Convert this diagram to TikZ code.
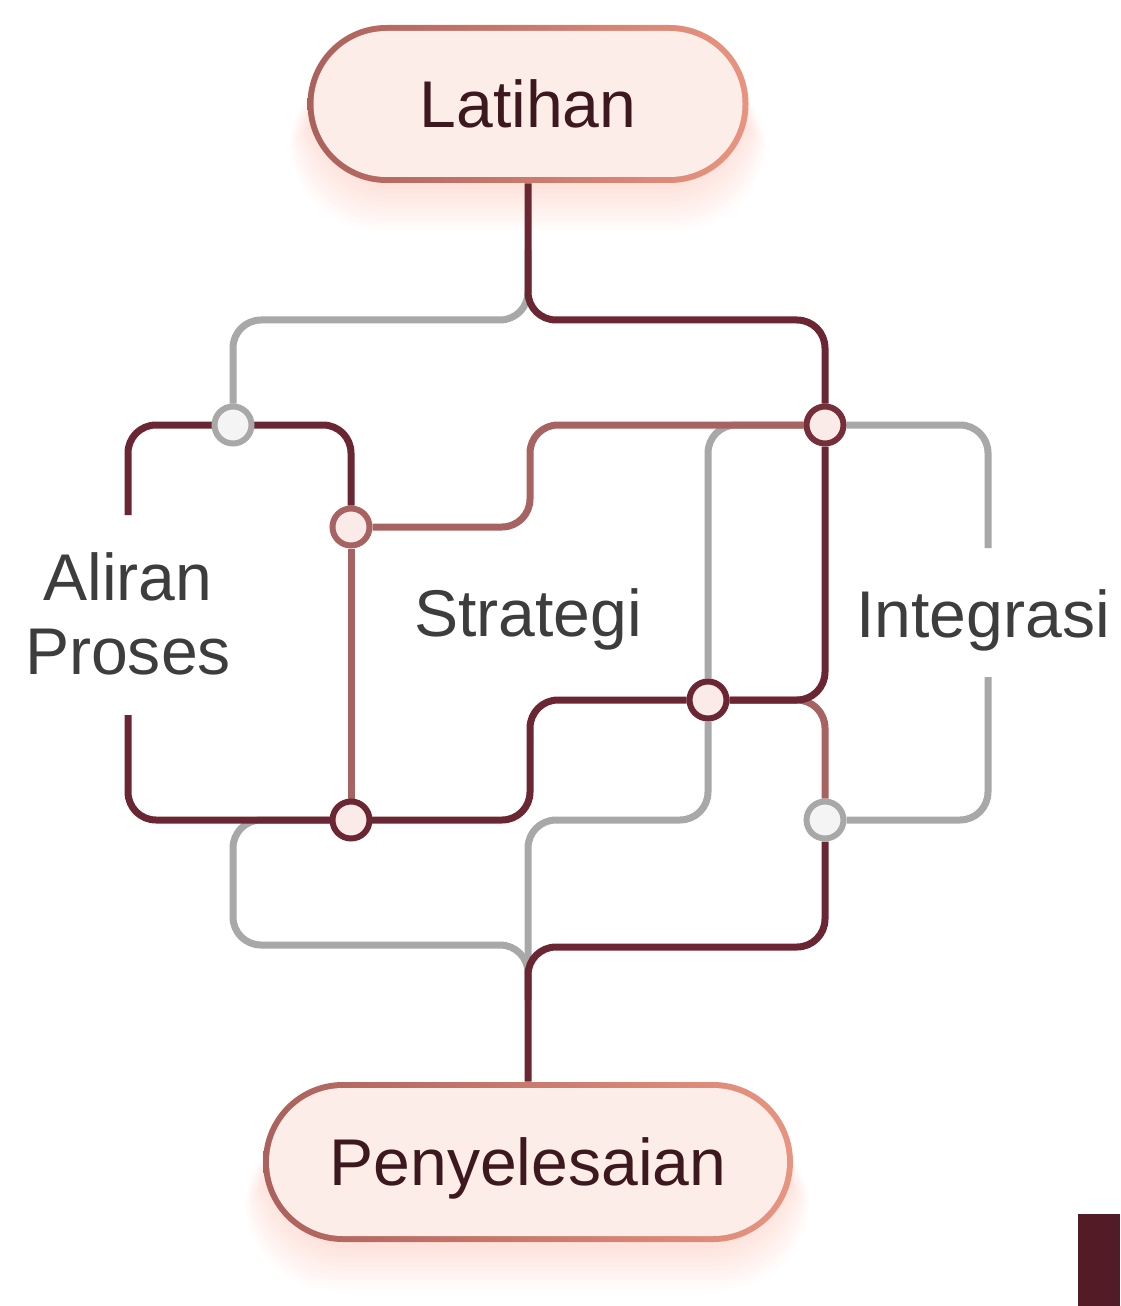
\documentclass[tikz,border=0pt]{standalone}
\usepackage{fontspec}
\setmainfont{Liberation Sans}
\pgfdeclarelayer{background}
\pgfsetlayers{background,main}

\newlength{\du}
\setlength{\du}{0.025cm}

\definecolor{darkline}{rgb}{0.420000, 0.150000, 0.200000}
\definecolor{roseline}{rgb}{0.650000, 0.390000, 0.380000}
\definecolor{grayline}{rgb}{0.660000, 0.660000, 0.660000}
\definecolor{pillfill}{rgb}{0.990000, 0.930000, 0.910000}
\definecolor{pillleft}{rgb}{0.670000, 0.380000, 0.360000}
\definecolor{pillright}{rgb}{0.910000, 0.580000, 0.500000}
\definecolor{glowcolor}{rgb}{0.980000, 0.600000, 0.500000}
\definecolor{junctionfill}{rgb}{0.985000, 0.920000, 0.910000}
\definecolor{junctiongray}{rgb}{0.955000, 0.955000, 0.955000}
\definecolor{labeltext}{rgb}{0.240000, 0.240000, 0.240000}
\definecolor{pilltext}{rgb}{0.240000, 0.100000, 0.120000}
\definecolor{cornerblock}{rgb}{0.320000, 0.105000, 0.145000}

\tikzset{
  track/.style={line width=7\du, rounded corners=28\du},
  junction/.style={circle, line width=6\du, minimum size=37\du, inner sep=0pt, fill=junctionfill},
  pillrim/.style={rectangle, inner sep=0pt, left color=pillleft, right color=pillright},
  pillcore/.style={rectangle, inner sep=0pt, fill=pillfill, text=pilltext, text depth=0pt,
    font=\fontsize{47}{56}\selectfont},
  lbl/.style={text=labeltext, font=\fontsize{47}{53}\selectfont}
}

\begin{document}
\begin{tikzpicture}
\pgftransformxscale{1.000000}
\pgftransformyscale{-1.000000}
\useasboundingbox (0\du,0\du) rectangle (1120\du,1306\du);

% pills
\node[pillrim, minimum width=441\du, minimum height=158\du, rounded corners=79\du] (latRim) at (528\du,104\du) {};
\node[pillcore, minimum width=429\du, minimum height=146\du, rounded corners=73\du] (lat) at (latRim) {Latihan};
\node[pillrim, minimum width=530\du, minimum height=160\du, rounded corners=80\du] (penRim) at (528\du,1162\du) {};
\node[pillcore, minimum width=518\du, minimum height=148\du, rounded corners=74\du] (pen) at (penRim) {Penyelesaian};

% junctions
\node[junction, draw=grayline, fill=junctiongray] (jL) at (233\du,425\du) {};
\node[junction, draw=roseline] (jS1) at (351\du,527\du) {};
\node[junction, draw=darkline] (jS2) at (351\du,820\du) {};
\node[junction, draw=darkline!85!roseline] (jR1) at (825\du,425\du) {};
\node[junction, draw=darkline] (jM) at (708\du,700\du) {};
\node[junction, draw=grayline, fill=junctiongray] (jR2) at (825\du,820\du) {};

% open ends of the brackets
\coordinate (aTop) at (128\du,515\du);
\coordinate (aBot) at (128\du,715\du);
\coordinate (iTop) at (988\du,548\du);
\coordinate (iBot) at (988\du,677\du);

% labels
\node[lbl, align=center] (aliran) at (128\du,614\du) {Aliran\\Proses};
\node[lbl, anchor=base] (strategi) at (528\du,636\du) {Strategi};
\node[lbl, anchor=base] (integrasi) at (983\du,637\du) {Integrasi};

\begin{pgfonlayer}{background}
% glow under the pills
\foreach \k in {1,...,10}
{
\fill[glowcolor, opacity=0.03, rounded corners=90\du] ({(310-2*\k)*\du},{(60)*\du}) rectangle ({(745+2*\k)*\du},{(185+4.5*\k)*\du});
\fill[glowcolor, opacity=0.03, rounded corners=90\du] ({(265-2*\k)*\du},{(1120)*\du}) rectangle ({(789+2*\k)*\du},{(1244+4.5*\k)*\du});
}
% gray tracks
\draw[track, grayline] (528\du,250\du) |- (233\du,320\du) -- (jL);
\draw[track, grayline] (jR1) -| (iTop);
\draw[track, grayline] (iBot) |- (jR2);
\draw[track, grayline] (jR1) -| (jM);
\draw[track, grayline] (jM) |- (528\du,820\du) -- (528\du,1000\du);
\draw[track, grayline] (jS2) -| (233\du,945\du) -| (528\du,1000\du);
% rose tracks
\draw[track, roseline] (jS1) -- (jS2);
\draw[track, roseline] (jS1) -- (530\du,527\du) |- (jR1);
\draw[track, roseline] (jM) -| (jR2);
% dark tracks
\draw[track, darkline] (latRim.south) |- (825\du,320\du) -- (jR1);
\draw[track, darkline] (aTop) |- (351\du,425\du) -- (jS1);
\draw[track, darkline] (aBot) |- (530\du,820\du) |- (jM);
\draw[track, darkline] (jR1) |- (jM);
\draw[track, darkline] (jR2) |- (528\du,947\du) -- (penRim.north);
\end{pgfonlayer}

\fill[cornerblock] (1078\du,1214\du) rectangle (1120\du,1306\du);
\end{tikzpicture}
\end{document}
